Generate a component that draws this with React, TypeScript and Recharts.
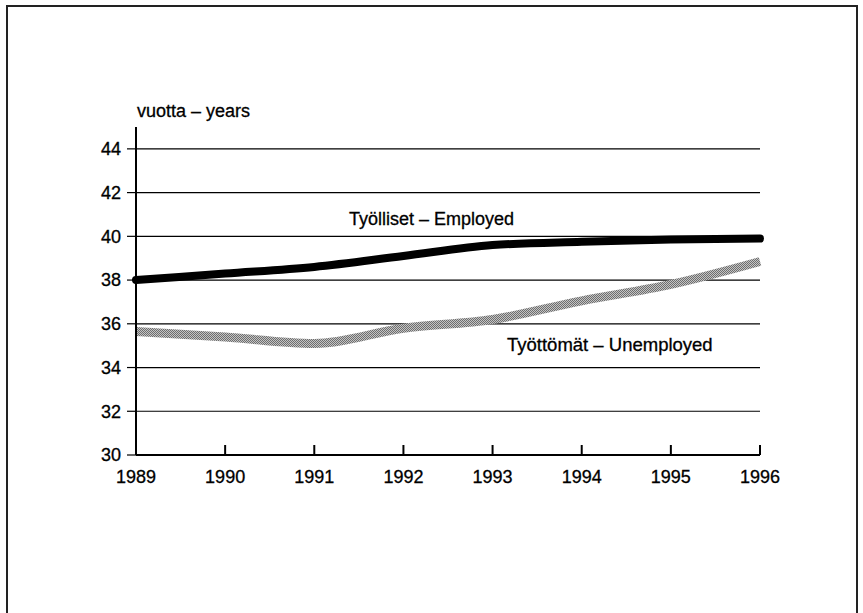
import React from "react";
import {
  LineChart,
  Line,
  XAxis,
  YAxis,
  CartesianGrid,
} from "recharts";

const years = [1989, 1990, 1991, 1992, 1993, 1994, 1995, 1996];
const employed = [38.0, 38.3, 38.6, 39.1, 39.6, 39.75, 39.85, 39.9];
const unemployed = [35.65, 35.4, 35.1, 35.8, 36.2, 37.05, 37.8, 38.85];
const yTicks = [30, 32, 34, 36, 38, 40, 42, 44];
const yDomain = [30, 45];

const data = years.map((year, i) => ({
  year,
  employed: employed[i],
  unemployed: unemployed[i],
}));

const FONT = "'Liberation Sans', Arial, sans-serif";

const YearTick = (props: any) => {
  const { x, y, payload } = props;
  return (
    <g>
      <line x1={x} y1={y} x2={x} y2={y - 10} stroke="#000" strokeWidth={2} />
      <text
        x={x}
        y={y + 28}
        textAnchor="middle"
        fill="#000"
        stroke="#000"
        strokeWidth={0.3}
        fontSize={18}
        fontFamily={FONT}
      >
        {payload.value}
      </text>
    </g>
  );
};

// grid rows only at the tick values, not at the top edge of the plot
const gridRows = ({ offset }: any) => {
  const [lo, hi] = yDomain;
  return yTicks.map(
    (t) => offset.top + (offset.height * (hi - t)) / (hi - lo)
  );
};

export default function App() {
  return (
    <div
      style={{
        position: "absolute",
        left: 0,
        top: 0,
        width: 863,
        height: 613,
        background: "#fff",
        fontFamily: FONT,
        overflow: "hidden",
      }}
    >
      <LineChart
        width={863}
        height={613}
        data={data}
        margin={{ top: 127, right: 103, bottom: 0, left: 0 }}
      >
        <CartesianGrid
          horizontal
          vertical={false}
          horizontalCoordinatesGenerator={gridRows}
          stroke="#000"
          strokeWidth={1.2}
        />
        <XAxis
          dataKey="year"
          type="number"
          domain={[1989, 1996]}
          ticks={years}
          interval={0}
          axisLine={{ stroke: "#000", strokeWidth: 2 }}
          tickLine={false}
          tickSize={0}
          tickMargin={0}
          tick={<YearTick />}
          height={158}
        />
        <YAxis
          width={136}
          domain={yDomain}
          ticks={yTicks}
          interval={0}
          axisLine={{ stroke: "#000", strokeWidth: 2 }}
          tickLine={{ stroke: "#000", strokeWidth: 1.2 }}
          tickSize={9}
          tickMargin={6}
          tick={{
            fill: "#000",
            stroke: "#000",
            strokeWidth: 0.3,
            fontSize: 18,
            fontFamily: FONT,
          }}
        />
        <Line
          dataKey="unemployed"
          type="monotone"
          stroke="url(#stipple)"
          strokeWidth={9}
          dot={false}
          activeDot={false}
          isAnimationActive={false}
        />
        <Line
          dataKey="employed"
          type="monotone"
          stroke="#000"
          strokeWidth={8}
          strokeLinecap="round"
          strokeLinejoin="round"
          dot={false}
          activeDot={false}
          isAnimationActive={false}
        />
      </LineChart>
      <svg
        width={863}
        height={613}
        style={{ position: "absolute", left: 0, top: 0, pointerEvents: "none" }}
      >
        <defs>
          <pattern
            id="stipple"
            patternUnits="userSpaceOnUse"
            width={2}
            height={2}
          >
            <rect x={0} y={0} width={2} height={2} fill="#c4c4c4" />
            <rect x={0} y={0} width={1} height={1} fill="#6e6e6e" />
            <rect x={1} y={1} width={1} height={1} fill="#6e6e6e" />
          </pattern>
        </defs>
        <rect
          x={7}
          y={6}
          width={850}
          height={630}
          fill="none"
          stroke="#222"
          strokeWidth={2}
        />
        <g fill="#000" stroke="#000" strokeWidth={0.3}>
          <text x={137} y={117} fontSize={18}>
            vuotta – years
          </text>
          <text x={349} y={225} fontSize={18}>
            Työlliset – Employed
          </text>
          <text x={507} y={351} fontSize={18.5}>
            Työttömät – Unemployed
          </text>
        </g>
      </svg>
    </div>
  );
}
